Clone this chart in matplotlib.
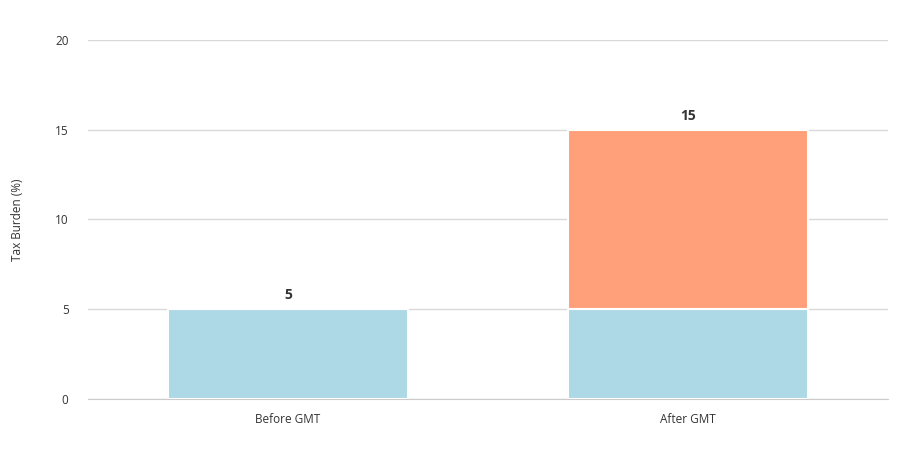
import matplotlib.pyplot as plt
import numpy as np

categories = ['Before GMT', 'After GMT']
base_tax = [5, 5]
extra_tax = [0, 10]
totals = [5, 15]
yticks = [0, 5, 10, 15, 20]

plt.rcParams['font.family'] = ['Open Sans', 'DejaVu Sans']

fig = plt.figure(figsize=(9, 4.49), dpi=100)
ax = fig.add_axes([0.0978, 0.1114, 0.8889, 0.7995])

x = np.arange(len(categories))
ax.bar(x, base_tax, width=0.6, color='#ADD8E6', edgecolor='white', linewidth=1.5, zorder=3)
ax.bar(x, extra_tax, width=0.6, bottom=base_tax, color='#FFA07A', edgecolor='white', linewidth=1.5, zorder=3)

for xi, t in zip(x, totals):
    ax.text(xi, t + 0.4, str(t), ha='center', va='bottom', fontsize=10, fontweight='bold', color='#333333')

ax.set_xlim(-0.5, 1.5)
ax.set_ylim(0, 20)
ax.set_yticks(yticks)
ax.set_xticks(x)
ax.set_xticklabels(categories)
ax.grid(axis='y', color='#d9d9d9', linewidth=1, zorder=0)
ax.tick_params(axis='both', length=0, labelsize=8.5, colors='#333333', pad=10)
ax.tick_params(axis='y', pad=14)
for s in ['top', 'right', 'left']:
    ax.spines[s].set_visible(False)
ax.spines['bottom'].set_color('#cccccc')
ax.set_ylabel('Tax Burden (%)', fontsize=8.5, color='#333333', labelpad=22)

fig.savefig('out.png')
